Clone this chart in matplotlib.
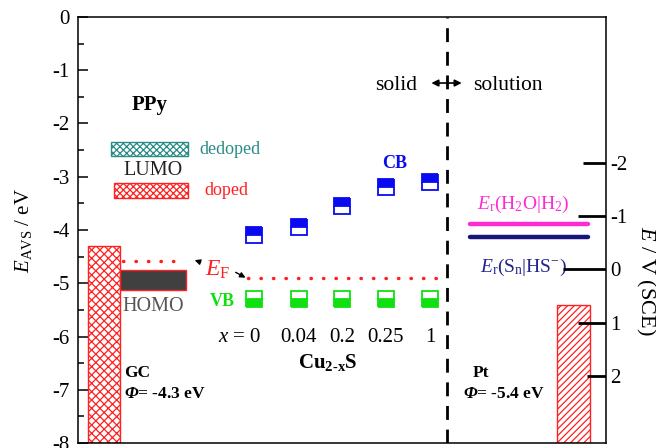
import numpy as np
import matplotlib
matplotlib.use('Agg')
from matplotlib import pyplot as plt
from matplotlib.patches import Rectangle

plt.rcParams['font.family'] = 'Liberation Serif'
plt.rcParams['mathtext.fontset'] = 'custom'
plt.rcParams['mathtext.rm'] = 'Liberation Serif'
plt.rcParams['mathtext.it'] = 'Liberation Serif:italic'
plt.rcParams['mathtext.bf'] = 'Liberation Serif:bold'
plt.rcParams['mathtext.bfit'] = 'Liberation Serif:bold:italic'
plt.rcParams['hatch.linewidth'] = 0.9

# -------------------------------------------------------------------------------
# energy levels (eV vs. vacuum)

x_labels = ['0', '0.04', '0.2', '0.25', '1']
cb_levels = [-4.10, -3.95, -3.54, -3.19, -3.10]
vb_levels = [-5.29, -5.29, -5.29, -5.29, -5.29]
fermi_cu2s = -4.90

ppy_dedoped = (-2.35, -2.61)
ppy_doped = (-3.12, -3.40)
ppy_homo = (-4.76, -5.13)
fermi_ppy = -4.58

phi_gc = -4.3
phi_pt = -5.4

e_h2o_h2 = -3.89
e_sn_hs = -4.14

sce_offset = -4.74          # E_AVS = -4.74 - E(SCE)
sce_ticks = [-2, -1, 0, 1, 2]
sce_tick_len = [4.4, 5.3, 8.1, 5.3, 3.6]   # in x-axis units

red = '#ff2020'
teal = '#2a8c86'
blue = '#0a0af0'
green = '#10e010'
pink = '#ff2ad4'
navy = '#15157a'

# -------------------------------------------------------------------------------
# figure

fig = plt.figure(figsize=(6.56, 4.48), dpi=100)
ax = fig.add_axes([78/656, 5/448, 528/656, 426/448])
ax.set_xlim(0, 100)
ax.set_ylim(-8, 0)

for s in ax.spines.values():
    s.set_linewidth(1.1)

ax.set_xticks([])
ax.set_yticks(np.arange(-8, 1, 1))
ax.set_yticks(np.arange(-7.5, 0, 1), minor=True)
ax.tick_params(axis='y', which='major', direction='in', length=7, width=1.1,
               labelsize=15, pad=6, right=False)
ax.tick_params(axis='y', which='minor', direction='in', length=4.5, width=1.1, right=False)
ax.set_yticklabels([str(v) for v in range(-8, 1)])
ax.set_ylabel(r'$E_\mathrm{AVS}$ / eV', fontsize=15, labelpad=13)

# -------------------------------------------------------------------------------
# electrodes

ax.add_patch(Rectangle((1.9, -8), 6.05, phi_gc + 8, facecolor='white',
                       edgecolor=red, hatch='xxxx', lw=1.0, zorder=2))
ax.add_patch(Rectangle((90.8, -8), 6.2, phi_pt + 8, facecolor='white',
                       edgecolor=red, hatch='/////', lw=1.0, zorder=2))

ax.text(8.7, -6.76, 'GC', fontsize=12.5, fontweight='bold')
ax.text(8.7, -7.15, r'$\mathbfit{\Phi}$= %.1f eV' % phi_gc, fontsize=12.5, fontweight='bold')
ax.text(74.8, -6.76, 'Pt', fontsize=12.5, fontweight='bold')
ax.text(72.9, -7.15, r'$\mathbfit{\Phi}$= %.1f eV' % phi_pt, fontsize=12.5, fontweight='bold')

# -------------------------------------------------------------------------------
# PPy

ax.text(10.2, -1.75, 'PPy', fontsize=15, fontweight='bold')
ax.add_patch(Rectangle((6.25, ppy_dedoped[1]), 14.55, ppy_dedoped[0] - ppy_dedoped[1],
                       facecolor='white', edgecolor=teal, hatch='xxxxx', lw=1.0))
ax.add_patch(Rectangle((6.8, ppy_doped[1]), 14.0, ppy_doped[0] - ppy_doped[1],
                       facecolor='white', edgecolor=red, hatch='xxxxx', lw=1.0))
ax.text(22.9, np.mean(ppy_dedoped), 'dedoped', color=teal, fontsize=13, va='center')
ax.text(23.9, -3.34, 'doped', color=red, fontsize=13)
ax.text(14.2, -2.97, 'LUMO', color='#222222', fontsize=14.5, ha='center')

ax.add_patch(Rectangle((7.95, ppy_homo[1]), 12.5, ppy_homo[0] - ppy_homo[1],
                       facecolor='#404040', edgecolor=red, lw=1.0, zorder=3))
ax.text(14.2, -5.52, 'HOMO', color='#555555', fontsize=14.5, ha='center')

# Fermi levels
dots = dict(color=red, lw=2.5, linestyle=(0, (0.1, 3.5)), dash_capstyle='round')
ax.plot([8.5, 18.4], [fermi_ppy, fermi_ppy], **dots)
ax.plot([32.2, 68.2], [fermi_cu2s, fermi_cu2s], **dots)
ax.text(26.5, -4.85, r'$E_\mathrm{F}$', color=red, fontsize=17, ha='center')
arrow = dict(arrowstyle='-|>', color='black', lw=1.0, mutation_scale=8)
ax.annotate('', xy=(21.6, -4.55), xytext=(23.7, -4.62), arrowprops=arrow)
ax.annotate('', xy=(32.2, -4.92), xytext=(29.4, -4.77), arrowprops=arrow)

# -------------------------------------------------------------------------------
# Cu2-xS bands

xpos = [33.3, 41.8, 50.0, 58.3, 66.7]
ax.plot(xpos, cb_levels, 's', ms=11, mew=1.3, color=blue, markerfacecolor=blue,
        markerfacecoloralt='white', fillstyle='top', zorder=4)
ax.plot(xpos, vb_levels, 's', ms=11, mew=1.3, color=green, markerfacecolor=green,
        markerfacecoloralt='white', fillstyle='bottom', zorder=4)
ax.text(57.6, -2.84, 'CB', color=blue, fontsize=13, fontweight='bold')
ax.text(25.0, -5.43, 'VB', color=green, fontsize=13, fontweight='bold')

for i, lab in enumerate(x_labels):
    if i == 0:
        ax.text(xpos[i] + 1.4, -6.10, r'$x$ = ' + lab, fontsize=15, ha='right')
    else:
        ax.text(xpos[i], -6.10, lab, fontsize=15, ha='center')
ax.text(47.3, -6.59, r'Cu$_{\mathbf{2\text{-}x}}$S', fontsize=15, fontweight='bold', ha='center')

# -------------------------------------------------------------------------------
# interface and redox levels

ax.axvline(69.9, color='black', lw=2.0, linestyle=(0, (5, 3.5)))
ax.text(56.25, -1.38, 'solid', fontsize=15.5)
ax.text(74.8, -1.38, 'solution', fontsize=15.5)
ax.annotate('', xy=(66.4, -1.24), xytext=(73.2, -1.24),
            arrowprops=dict(arrowstyle='<|-|>', color='black', lw=1.2, mutation_scale=10))

ax.plot([74.2, 96.6], [e_h2o_h2, e_h2o_h2], color=pink, lw=3.2, solid_capstyle='round')
ax.plot([74.2, 96.6], [e_sn_hs, e_sn_hs], color=navy, lw=3.2, solid_capstyle='round')
ax.text(75.6, -3.61, r'$E_\mathrm{r}$(H$_\mathrm{2}$O|H$_\mathrm{2}$)', color=pink, fontsize=14)
ax.text(76.1, -4.78, r'$E_\mathrm{r}$(S$_\mathrm{n}$|HS$^{-}$)', color='#23238e', fontsize=14)

# -------------------------------------------------------------------------------
# SCE scale on the right

sec = ax.secondary_yaxis('right', functions=(lambda e: sce_offset - e,
                                             lambda v: sce_offset - v))
sec.set_yticks(sce_ticks)
sec.set_yticklabels([str(v) for v in sce_ticks])
sec.tick_params(direction='in', length=0, labelsize=15, pad=3)
sec.spines['right'].set_visible(False)

# hand-length tick marks for the SCE scale
for v, L in zip(sce_ticks, sce_tick_len):
    e = sce_offset - v
    ax.plot([100 - L, 100], [e, e], color='black', lw=2.0, solid_capstyle='butt', zorder=5)

ax.text(1.074, 0.38, r'$E$ / V (SCE)', fontsize=16, rotation=270,
        ha='center', va='center', transform=ax.transAxes)

fig.savefig('out.png', dpi=100)
